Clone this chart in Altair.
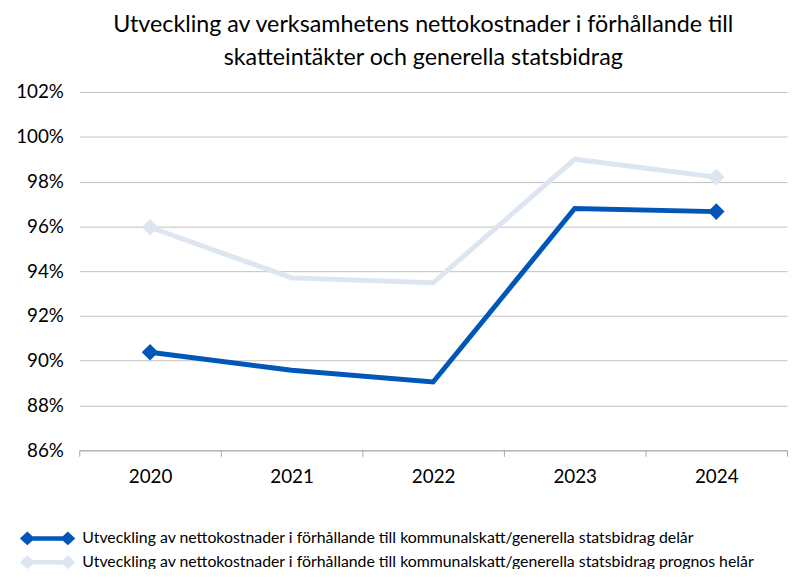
import altair as alt
import pandas as pd

years = ["2020", "2021", "2022", "2023", "2024"]
delar = [0.9038, 0.8958, 0.8905, 0.9680, 0.9666]
helar = [0.9596, 0.9370, 0.9348, 0.9900, 0.9820]
series_names = [
    "Utveckling av nettokostnader i förhållande till kommunalskatt/generella statsbidrag delår",
    "Utveckling av nettokostnader i förhållande till kommunalskatt/generella statsbidrag prognos helår",
]
marker_years = ["2020", "2024"]

rows = []
for i, y in enumerate(years):
    rows.append({"year": y, "serie": series_names[0], "value": delar[i]})
    rows.append({"year": y, "serie": series_names[1], "value": helar[i]})
df = pd.DataFrame(rows)

FONT = "Lato"
colors = ["#0057B8", "#DCE5F0"]

# line with diamonds at both ends, in unit coordinates (extends beyond the unit box)
legend_path = (
    "M-2,0 L-1.46,-0.5 L-0.92,0 L-1.46,0.5 Z "
    "M-1.2,-0.16 L1.2,-0.16 L1.2,0.16 L-1.2,0.16 Z "
    "M0.92,0 L1.46,-0.5 L2,0 L1.46,0.5 Z"
)

legend = alt.Legend(title=None, orient="none", legendX=-46, legendY=437,
                    symbolType=legend_path, symbolSize=784,
                    symbolStrokeWidth=0, symbolOpacity=1, labelOffset=21,
                    labelFontSize=16, labelFont=FONT, labelColor="#000000",
                    labelLimit=800, rowPadding=2, direction="vertical")

x = alt.X("year:N", sort=years, title=None,
          axis=alt.Axis(labelAngle=0, tickBand="extent", labelFontSize=19,
                        labelPadding=11, domainColor="#A6A6A6", tickColor="#A6A6A6",
                        tickSize=6, labelColor="#000000", labelFont=FONT))
y = alt.Y("value:Q", title=None,
          scale=alt.Scale(domain=[0.86, 1.02], nice=False, zero=False),
          axis=alt.Axis(format=".0%", values=[0.86, 0.88, 0.90, 0.92, 0.94, 0.96, 0.98, 1.00, 1.02],
                        grid=True, gridColor="#C0C0C0", domain=False, ticks=False,
                        labelFontSize=19, labelPadding=16, labelColor="#000000", labelFont=FONT))

color_scale = alt.Scale(domain=series_names, range=colors)

lines = alt.Chart(df).mark_line(strokeWidth=5).encode(
    x=x, y=y,
    color=alt.Color("serie:N", scale=color_scale, legend=legend),
)

points = alt.Chart(df).transform_filter(
    alt.FieldOneOfPredicate(field="year", oneOf=marker_years)
).mark_point(shape="diamond", filled=True, size=280, opacity=1).encode(
    x=x, y=y,
    color=alt.Color("serie:N", scale=color_scale, legend=legend),
)

chart = alt.layer(lines, points).properties(
    width=715, height=362,
    autosize=alt.AutoSizeParams(type="none"),
    padding={"left": 72, "top": 82, "right": 2, "bottom": 117},
    title=alt.TitleParams(
        text=["Utveckling av verksamhetens nettokostnader i förhållande till",
              "skatteintäkter och generella statsbidrag"],
        fontSize=23.5, font=FONT, fontWeight="normal", color="#000000",
        anchor="middle", offset=14, lineHeight=33, dx=-10,
    ),
).configure_view(stroke=None)

chart.save("out.html", embed_options={"renderer": "svg", "actions": False})
